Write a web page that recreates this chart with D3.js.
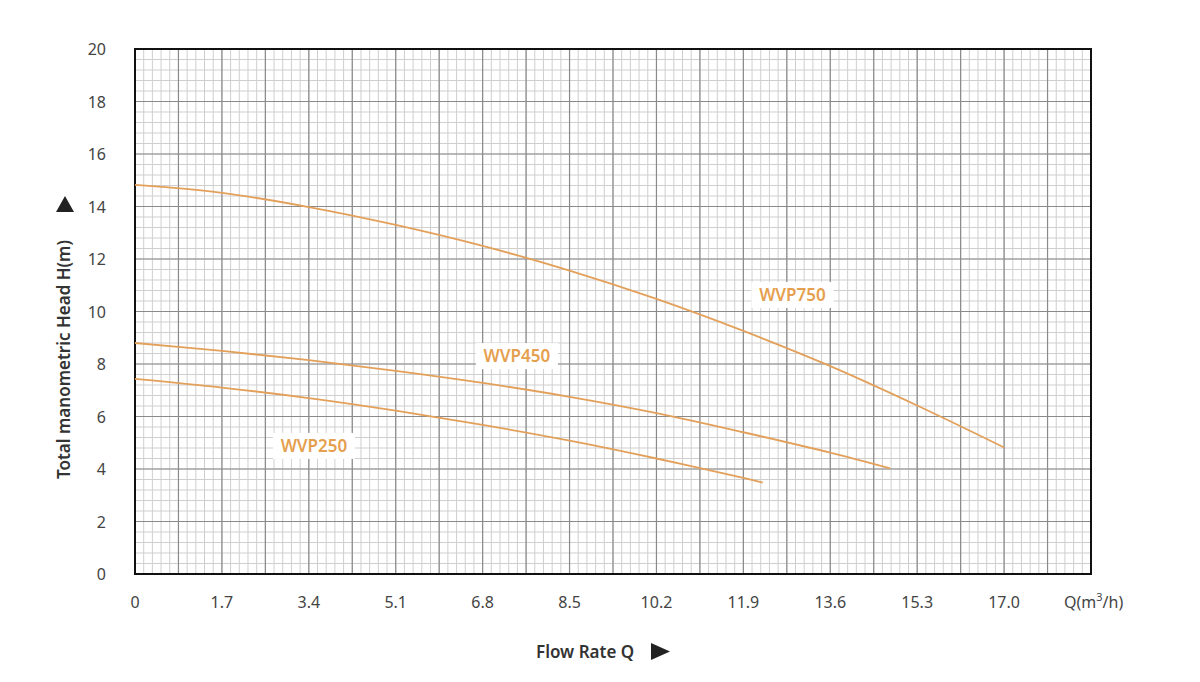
<!DOCTYPE html>
<html>
<head>
<meta charset="utf-8">
<script src="https://cdn.jsdelivr.net/npm/d3@7"></script>
<style>
  body { margin: 0; background: #fff; }
  svg { display: block; font-family: "Noto Sans", "Open Sans", sans-serif; }
</style>
</head>
<body>
<svg id="chart" width="1200" height="682"></svg>
<script>
// tick labels
var xTicks = [0, 1.7, 3.4, 5.1, 6.8, 8.5, 10.2, 11.9, 13.6, 15.3, 17.0];
var xTickLabels = ["0", "1.7", "3.4", "5.1", "6.8", "8.5", "10.2", "11.9", "13.6", "15.3", "17.0"];
var yTicks = [0, 2, 4, 6, 8, 10, 12, 14, 16, 18, 20];

// curves (Q m3/h, H m)
var wvp750 = [[0, 14.82], [1.7, 14.52], [3.4, 13.98], [5.1, 13.3], [6.8, 12.5], [8.5, 11.56],
              [10.2, 10.48], [11.9, 9.26], [13.6, 7.92], [15.3, 6.42], [17.0, 4.82]];
var wvp450 = [[0, 8.8], [1.7, 8.5], [3.4, 8.15], [5.1, 7.74], [6.8, 7.28], [8.5, 6.75],
              [10.2, 6.13], [11.9, 5.4], [13.6, 4.62], [14.77, 4.02]];
var wvp250 = [[0, 7.43], [1.7, 7.1], [3.4, 6.7], [5.1, 6.22], [6.8, 5.68], [8.5, 5.08],
              [10.2, 4.4], [11.9, 3.66], [12.28, 3.48]];
var seriesNames = ["WVP750", "WVP450", "WVP250"];
var labelPos = [[12.86, 10.63], [7.47, 8.3], [3.5, 4.88]];

(function() {
  var svg = d3.select("#chart");
  var pl = 135, pr = 1091, pt = 49, pb = 574;

  var x = d3.scaleLinear().domain([0, 18.7]).range([pl, pr]);
  var y = d3.scaleLinear().domain([0, 20]).range([pb, pt]);

  // minor grid
  var g = svg.append("g");
  var minorX = d3.range(0, 110).map(function(i) { return i * 0.17; });
  var minorY = d3.range(0, 50).map(function(i) { return i * 0.4; });
  g.selectAll("line.mx").data(minorX).enter().append("line")
    .attr("x1", function(d) { return x(d); }).attr("x2", function(d) { return x(d); })
    .attr("y1", pt).attr("y2", pb)
    .attr("stroke", "#cfcfcf").attr("stroke-width", 1);
  g.selectAll("line.my").data(minorY).enter().append("line")
    .attr("y1", function(d) { return y(d); }).attr("y2", function(d) { return y(d); })
    .attr("x1", pl).attr("x2", pr)
    .attr("stroke", "#cfcfcf").attr("stroke-width", 1);

  // major grid
  var majorX = d3.range(0, 22).map(function(i) { return i * 0.85; });
  g.selectAll("line.Mx").data(majorX).enter().append("line")
    .attr("x1", function(d) { return x(d); }).attr("x2", function(d) { return x(d); })
    .attr("y1", pt).attr("y2", pb)
    .attr("stroke", "#8a8a8a").attr("stroke-width", 1.2);
  g.selectAll("line.My").data(yTicks).enter().append("line")
    .attr("y1", function(d) { return y(d); }).attr("y2", function(d) { return y(d); })
    .attr("x1", pl).attr("x2", pr)
    .attr("stroke", "#8a8a8a").attr("stroke-width", 1.2);

  // frame
  svg.append("rect").attr("x", pl).attr("y", pt)
    .attr("width", pr - pl).attr("height", pb - pt)
    .attr("fill", "none").attr("stroke", "#111").attr("stroke-width", 2);

  // axis labels
  svg.append("g").selectAll("text").data(xTicks).enter().append("text")
    .attr("x", function(d) { return x(d); }).attr("y", 608)
    .attr("text-anchor", "middle").attr("font-size", 16).attr("fill", "#444")
    .text(function(d, i) { return xTickLabels[i]; });
  svg.append("g").selectAll("text").data(yTicks).enter().append("text")
    .attr("x", 106).attr("y", function(d) { return y(d) + 6; })
    .attr("text-anchor", "end").attr("font-size", 16).attr("fill", "#444")
    .text(function(d) { return d; });

  var q = svg.append("text").attr("x", 1064).attr("y", 608)
    .attr("font-size", 16).attr("fill", "#444");
  q.append("tspan").text("Q(m");
  q.append("tspan").attr("font-size", 11).attr("dy", -7).text("3");
  q.append("tspan").attr("dy", 7).text("/h)");

  svg.append("text").attr("x", 536).attr("y", 658)
    .attr("font-size", 17).attr("font-weight", 600).attr("fill", "#333")
    .text("Flow Rate Q");
  svg.append("path").attr("d", "M651,643 L670,651.5 L651,660 Z").attr("fill", "#222");

  svg.append("text")
    .attr("transform", "translate(70,479) rotate(-90)")
    .attr("font-size", 17).attr("font-weight", 600).attr("fill", "#333")
    .text("Total manometric  Head H(m)");
  svg.append("path").attr("d", "M56,212 L65,196 L74,212 Z").attr("fill", "#222");

  // curves
  var line = d3.line()
    .x(function(d) { return x(d[0]); })
    .y(function(d) { return y(d[1]); })
    .curve(d3.curveCatmullRom.alpha(0.5));

  svg.append("g").selectAll("path").data([wvp750, wvp450, wvp250]).enter().append("path")
    .attr("d", line).attr("fill", "none")
    .attr("stroke", "#e3a05a").attr("stroke-width", 1.8);

  // series labels
  var lab = svg.append("g").selectAll("g").data(seriesNames).enter().append("g")
    .attr("transform", function(d, i) { return "translate(" + x(labelPos[i][0]) + "," + y(labelPos[i][1]) + ")"; });
  lab.append("rect").attr("x", -41).attr("y", -13).attr("width", 82).attr("height", 26)
    .attr("fill", "#fff");
  lab.append("text").attr("text-anchor", "middle").attr("y", 6)
    .attr("font-size", 17).attr("font-weight", 600).attr("fill", "#e5a04f")
    .text(function(d) { return d; });
})();
</script>
</body>
</html>
